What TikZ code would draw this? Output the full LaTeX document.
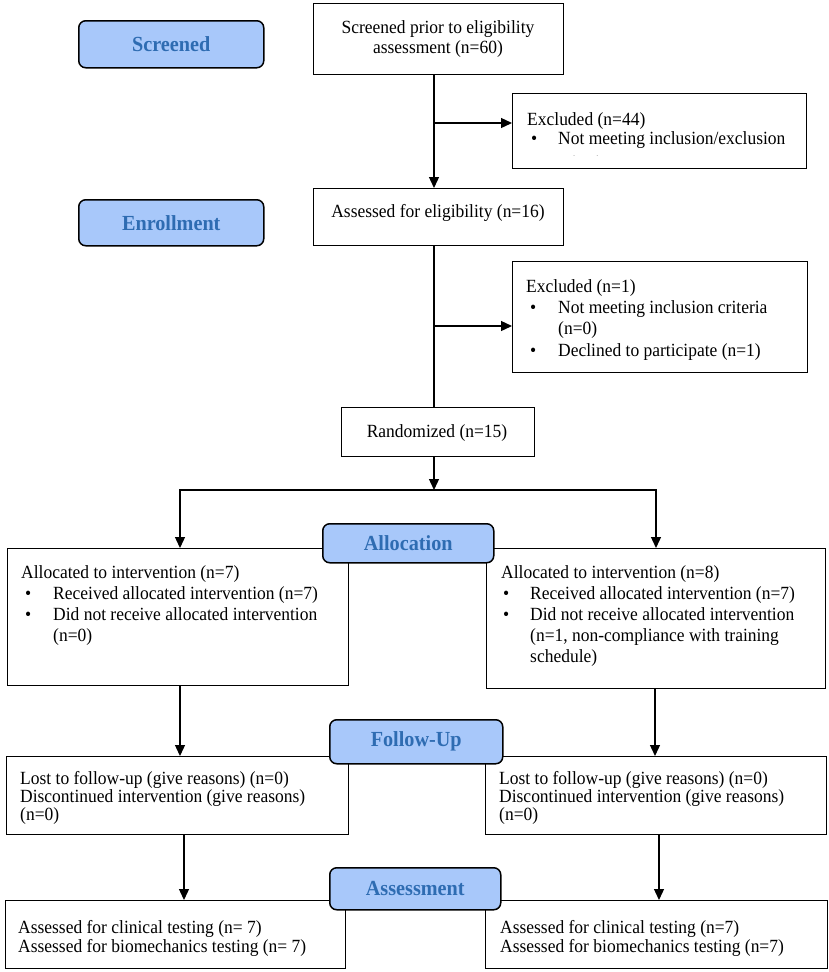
\documentclass[tikz,border=0pt]{standalone}
\usepackage{fontspec}
\setmainfont[FakeStretch=0.94]{Liberation Serif}
\usetikzlibrary{arrows.meta}
\definecolor{lblfill}{RGB}{168,200,250}
\definecolor{lbltext}{RGB}{46,108,178}
\begin{document}
\begin{tikzpicture}[x=1pt,y=-1pt,
  box/.style={draw=black,line width=1.3pt,fill=white,anchor=north west,inner sep=0pt},
  lbl/.style={draw=black,line width=1.5pt,fill=lblfill,rounded corners=7pt,anchor=north west,inner sep=0pt,text=lbltext,font=\fontsize{21.5}{24}\selectfont\bfseries},
  txt/.style={anchor=base west,inner sep=0pt,font=\fontsize{18.6}{21}\selectfont},
  ctxt/.style={txt,anchor=base},
  conn/.style={line width=1.3pt},
  arr/.style={conn,-{Triangle[length=11pt,width=10pt]}}]
\useasboundingbox (0,0) rectangle (829,972);
\fill[white] (0,0) rectangle (829,972);

% boxes
\node[box,minimum width=250pt,minimum height=71pt] (top) at (313,3) {};
\node[box,minimum width=294pt,minimum height=75pt] (ex1) at (512,93) {};
\node[box,minimum width=250pt,minimum height=57pt] (assessed) at (313,188) {};
\node[box,minimum width=295pt,minimum height=111pt] (ex2) at (512,261) {};
\node[box,minimum width=193pt,minimum height=49pt] (rand) at (341,407) {};
\node[box,minimum width=341pt,minimum height=137pt] (allocL) at (7,548) {};
\node[box,minimum width=339pt,minimum height=140pt] (allocR) at (486,548) {};
\node[box,minimum width=342pt,minimum height=78pt] (fuL) at (6,756) {};
\node[box,minimum width=341pt,minimum height=78pt] (fuR) at (485,756) {};
\node[box,minimum width=340pt,minimum height=68pt] (asL) at (5,900) {};
\node[box,minimum width=342pt,minimum height=68pt] (asR) at (485,900) {};

% texts
\node[ctxt] (top-1) at (438,33) {Screened prior to eligibility};
\node[ctxt] (top-2) at (438,53) {assessment (n=60)};

\node[txt] (ex1-1) at (527,125) {Excluded (n=44)};
\node[txt] (ex1-b1) at (531,144) {\textbullet};
\node[txt] (ex1-2) at (558,144) {Not meeting inclusion/exclusion};
\begin{scope}
  \clip (512,93) rectangle (806,155);
  \node[txt] (ex1-3) at (558,168) {criteria};
\end{scope}

\node[ctxt] (assessed-t) at (438,217) {Assessed for eligibility (n=16)};

\node[txt] (ex2-1) at (526,292) {Excluded (n=1)};
\node[txt] (ex2-b1) at (530,313) {\textbullet};
\node[txt] (ex2-2) at (558,313) {Not meeting inclusion criteria};
\node[txt] (ex2-3) at (558,334) {(n=0)};
\node[txt] (ex2-b2) at (530,356) {\textbullet};
\node[txt] (ex2-4) at (558,356) {Declined to participate (n=1)};

\node[ctxt] (rand-t) at (437,437) {Randomized (n=15)};

\node[txt] (aL-1) at (21,578) {Allocated to intervention (n=7)};
\node[txt] (aL-b1) at (25,599) {\textbullet};
\node[txt] (aL-2) at (53,599) {Received allocated intervention (n=7)};
\node[txt] (aL-b2) at (25,620) {\textbullet};
\node[txt] (aL-3) at (53,620) {Did not receive allocated intervention};
\node[txt] (aL-4) at (53,641) {(n=0)};

\node[txt] (aR-1) at (501,578) {Allocated to intervention (n=8)};
\node[txt] (aR-b1) at (503,599) {\textbullet};
\node[txt] (aR-2) at (530,599) {Received allocated intervention (n=7)};
\node[txt] (aR-b2) at (503,620) {\textbullet};
\node[txt] (aR-3) at (530,620) {Did not receive allocated intervention};
\node[txt] (aR-4) at (530,641) {(n=1, non-compliance with training};
\node[txt] (aR-5) at (530,662) {schedule)};

\node[txt] (fL-1) at (20,784) {Lost to follow-up (give reasons) (n=0)};
\node[txt] (fL-2) at (20,802) {Discontinued intervention (give reasons)};
\node[txt] (fL-3) at (20,820) {(n=0)};
\node[txt] (fR-1) at (499,784) {Lost to follow-up (give reasons) (n=0)};
\node[txt] (fR-2) at (499,802) {Discontinued intervention (give reasons)};
\node[txt] (fR-3) at (499,820) {(n=0)};

\node[txt] (sL-1) at (18,933) {Assessed for clinical testing (n= 7)};
\node[txt] (sL-2) at (18,952) {Assessed for biomechanics testing (n= 7)};
\node[txt] (sR-1) at (500,933) {Assessed for clinical testing (n=7)};
\node[txt] (sR-2) at (500,952) {Assessed for biomechanics testing (n=7)};

% connectors
\coordinate (cx) at (434,0);
\draw[arr] (top.south -| cx) -- (assessed.north -| cx);
\coordinate (j1) at (434,123);
\draw[arr] (j1) -- (j1 -| ex1.west);
\draw[conn] (assessed.south -| cx) -- (rand.north -| cx);
\coordinate (j2) at (434,326);
\draw[arr] (j2) -- (j2 -| ex2.west);
\coordinate (split) at (434,490);
\draw[arr] (rand.south -| cx) -- (split);
\coordinate (bl) at (180,490);
\coordinate (br) at (656,490);
\draw[arr] (split) -- (bl) -- (bl |- allocL.north);
\draw[arr] (split) -- (br) -- (br |- allocR.north);
\coordinate (fl) at (180,0);
\coordinate (fr) at (655,0);
\draw[arr] (allocL.south -| fl) -- (fuL.north -| fl);
\draw[arr] (allocR.south -| fr) -- (fuR.north -| fr);
\coordinate (al) at (184,0);
\coordinate (ar) at (659,0);
\draw[arr] (fuL.south -| al) -- (asL.north -| al);
\draw[arr] (fuR.south -| ar) -- (asR.north -| ar);

% stage labels
\node[lbl,minimum width=185pt,minimum height=47pt] (screened) at (78,20) {Screened};
\node[lbl,minimum width=185pt,minimum height=46pt] (enroll) at (78,199) {Enrollment};
\node[lbl,minimum width=171pt,minimum height=39pt] (alloc) at (322,523) {Allocation};
\node[lbl,minimum width=173pt,minimum height=44pt] (follow) at (329,719) {Follow-Up};
\node[lbl,minimum width=171pt,minimum height=42pt] (assess) at (329,867) {Assessment};
\end{tikzpicture}
\end{document}
